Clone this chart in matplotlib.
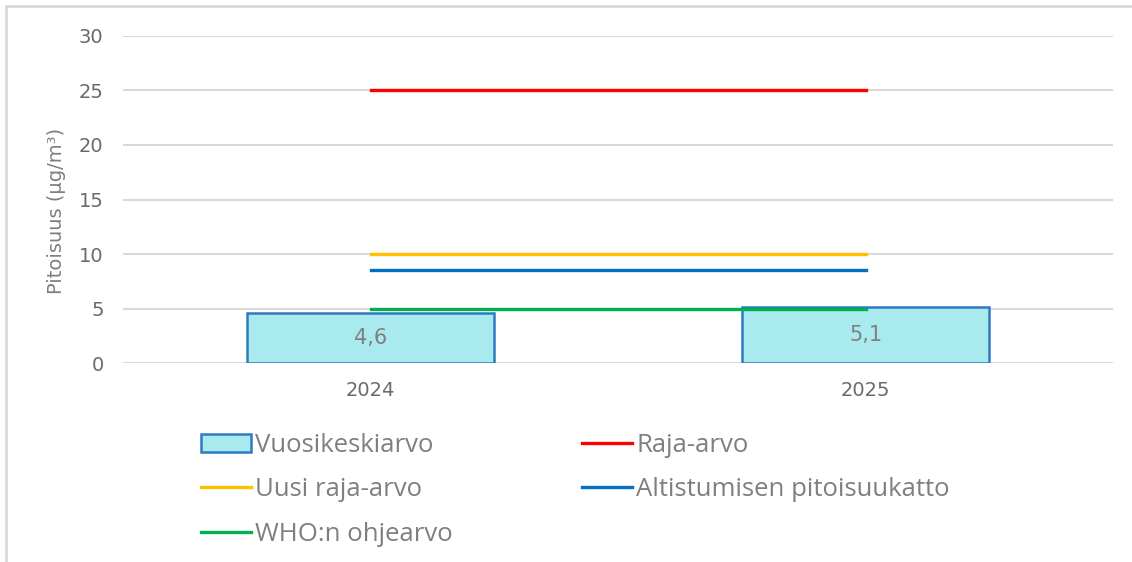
import numpy as np
import matplotlib.pyplot as plt
import matplotlib as mpl
from matplotlib.patches import Rectangle

mpl.rcParams['font.family'] = ['DejaVu Sans']

years = ['2024', '2025']
annual_mean = [4.6, 5.1]
limit_value = [25, 25]
new_limit = [10, 10]
exposure_cap = [8.5, 8.5]
who_guide = [5, 5]

grey = '#7f7f7f'
fig = plt.figure(figsize=(11.32, 5.62), dpi=100)
ax = fig.add_axes([0.1087, 0.354, 0.8746, 0.582])

x = np.arange(len(years))
bars = ax.bar(x, annual_mean, width=0.5, color='#a9eaef', edgecolor='#2e7bc4',
              linewidth=1.8, label='Vuosikeskiarvo', zorder=2)
for xi, v in zip(x, annual_mean):
    ax.text(xi, v / 2, f'{v:.1f}'.replace('.', ','), ha='center', va='center',
            fontsize=15, color=grey, zorder=4)

ax.plot(x, limit_value, color='#ff0000', lw=2.4, label='Raja-arvo', zorder=3)
ax.plot(x, new_limit, color='#ffc000', lw=2.4, label='Uusi raja-arvo', zorder=3)
ax.plot(x, exposure_cap, color='#0070c0', lw=2.4, label='Altistumisen pitoisuukatto', zorder=3)
ax.plot(x, who_guide, color='#00b050', lw=2.4, label='WHO:n ohjearvo', zorder=3)

ax.set_xlim(-0.5, 1.5)
ax.set_ylim(0, 30)
ax.set_yticks(range(0, 31, 5))
ax.set_xticks(x)
ax.set_xticklabels(years)
ax.grid(True, axis='y', color='#d9d9d9', lw=1.5, zorder=0)
ax.set_axisbelow(True)
for s in ax.spines.values():
    s.set_visible(False)
ax.tick_params(axis='both', length=0, labelsize=14, labelcolor='#6a6a6a')
ax.tick_params(axis='y', pad=14)
ax.tick_params(axis='x', pad=13)
ax.set_ylabel('Pitoisuus (µg/m³)', fontsize=14, color=grey)
ax.yaxis.set_label_coords(-0.058, 0.465)

h, l = ax.get_legend_handles_labels()
# handles: lines first, bar last; legend fills column by column
order = [4, 1, 3, 0, 2]
fig.legend([h[i] for i in order], [l[i] for i in order], ncol=2,
           loc='upper left', bbox_to_anchor=(0.157, 0.2705), frameon=False,
           prop={'family': 'Open Sans', 'size': 18.5}, labelcolor=grey,
           handlelength=1.95, handletextpad=0.15,
           columnspacing=5.05, labelspacing=0.75)

fig.patches.append(Rectangle((0.005, -0.05), 1.2, 1.04, transform=fig.transFigure,
                             fill=False, edgecolor='#d9d9d9', lw=2))

plt.savefig('out.png', dpi=100)
